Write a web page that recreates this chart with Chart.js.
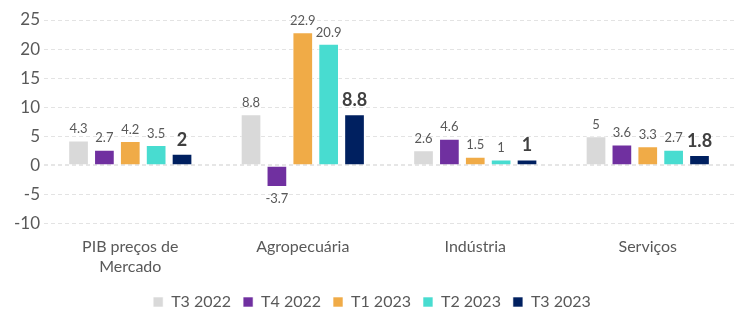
<!DOCTYPE html>
<html>
<head>
<meta charset="utf-8">
<script src="https://cdn.jsdelivr.net/npm/chart.js@4"></script>
<style>
  html, body { margin: 0; padding: 0; background: #fff; }
  #wrap { width: 750px; height: 327px; }
</style>
</head>
<body>
<div id="wrap"><canvas id="pibChart"></canvas></div>
<script>
// categorias e séries
const categories = [['PIB preços de', 'Mercado'], 'Agropecuária', 'Indústria', 'Serviços'];
const seriesNames = ['T3 2022', 'T4 2022', 'T1 2023', 'T2 2023', 'T3 2023'];
const t3_2022 = [4.3, 8.8, 2.6, 5];
const t4_2022 = [2.7, -3.7, 4.6, 3.6];
const t1_2023 = [4.2, 22.9, 1.5, 3.3];
const t2_2023 = [3.5, 20.9, 1, 2.7];
const t3_2023 = [2, 8.8, 1, 1.8];
const yTicks = [-10, -5, 0, 5, 10, 15, 20, 25];

const colors = ['#d9d9d9', '#7030a0', '#f0ab47', '#48dcd0', '#002060'];
const allValues = [t3_2022, t4_2022, t1_2023, t2_2023, t3_2023];
const FONT = 'Lato, "Open Sans", sans-serif';

// desenha os valores em cima das barras
const valueLabels = {
    id: 'valueLabels',
    afterDatasetsDraw(chart) {
        const ctx = chart.ctx;
        ctx.save();
        ctx.textAlign = 'center';
        chart.data.datasets.forEach((ds, i) => {
            const meta = chart.getDatasetMeta(i);
            const last = i === chart.data.datasets.length - 1;
            meta.data.forEach((bar, j) => {
                const v = ds.data[j];
                ctx.font = last ? 'bold 18px ' + FONT : '13px ' + FONT;
                ctx.fillStyle = last ? '#404040' : '#595959';
                if (v >= 0) {
                    ctx.textBaseline = 'bottom';
                    ctx.fillText(String(v), bar.x, bar.y - 5);
                } else {
                    ctx.textBaseline = 'top';
                    ctx.fillText(String(v), bar.x, bar.y + 5);
                }
            });
        });
        ctx.restore();
    }
};

new Chart(document.getElementById('pibChart'), {
    type: 'bar',
    data: {
        labels: categories,
        datasets: seriesNames.map((name, i) => ({
            label: name,
            data: allValues[i],
            backgroundColor: colors[i],
            borderColor: 'rgba(255,255,255,0.6)',
            borderWidth: 1,
            categoryPercentage: 0.75,
            barPercentage: 0.8
        }))
    },
    options: {
        responsive: true,
        maintainAspectRatio: false,
        animation: false,
        layout: { padding: { top: 20, right: 16, left: 10, bottom: 7 } },
        scales: {
            x: {
                grid: { display: false },
                border: { display: false },
                ticks: { color: '#595959', font: { family: FONT, size: 16, lineHeight: 1.2 }, padding: 6 }
            },
            y: {
                min: -10,
                max: 25,
                afterBuildTicks: axis => { axis.ticks = yTicks.map(v => ({ value: v })); },
                border: { display: false, dash: [4, 3] },
                grid: {
                    color: ctx => ctx.tick.value === 0 ? '#e6e6e6' : '#e3e3e3',
                    lineWidth: ctx => ctx.tick.value === 0 ? 2 : 1,
                    drawTicks: false
                },
                ticks: { color: '#595959', font: { family: FONT, size: 17 }, padding: 4 }
            }
        },
        plugins: {
            legend: {
                position: 'bottom',
                labels: {
                    color: '#595959',
                    font: { family: FONT, size: 16 },
                    boxWidth: 10,
                    boxHeight: 10,
                    padding: 12
                }
            },
            tooltip: { enabled: false }
        }
    },
    plugins: [valueLabels]
});
</script>
</body>
</html>
